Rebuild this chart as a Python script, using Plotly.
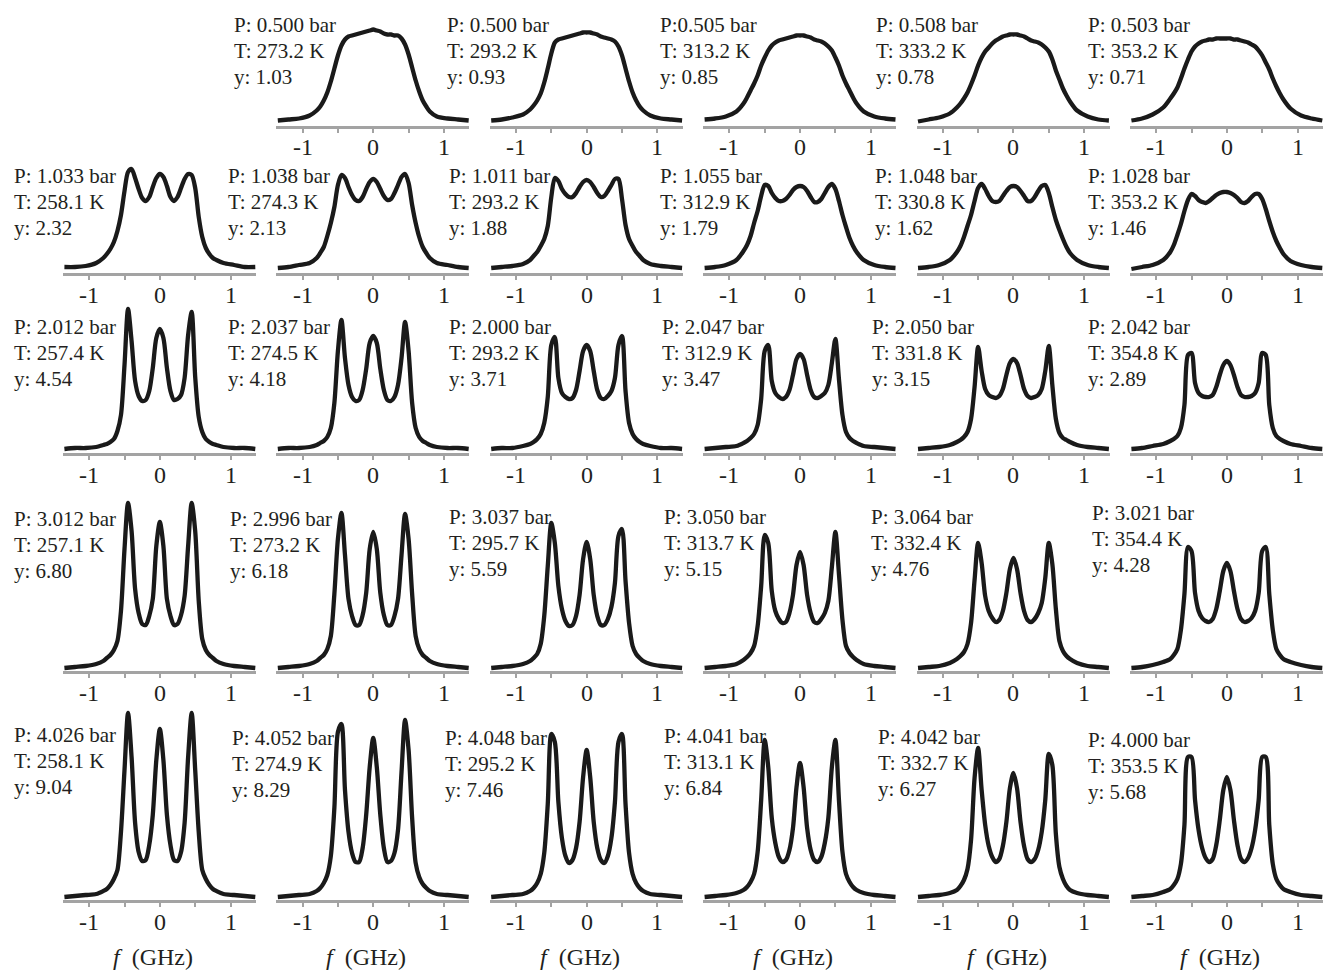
import plotly.graph_objects as go

# ---------------- data ----------------
# frequency grid (GHz)
X = [-1.35, -1.2, -1.05, -0.9, -0.8, -0.75, -0.7, -0.65, -0.6, -0.55, -0.5,
     -0.45, -0.4, -0.35, -0.3, -0.25, -0.2, -0.15, -0.1, -0.05, 0.0,
     0.05, 0.1, 0.15, 0.2, 0.25, 0.3, 0.35, 0.4, 0.45, 0.5, 0.55, 0.6,
     0.65, 0.7, 0.75, 0.8, 0.9, 1.05, 1.2, 1.35]

# intensity (arb. units) per panel, row r / column c
r1c2 = [5,6,7,10,15,19,25,33,44,57,70,80,86,89,90,91,92,93,94,95,96, 95,94,92,91,91,90,90,87,81,71,58,45,34,25,19,14,9,7,6,5]
r1c3 = [5,6,8,11,16,20,25,32,43,57,72,83,86,87,88,89,90,91,92,93,93, 93,92,91,89,88,87,86,84,79,70,57,44,33,25,19,15,10,7,6,5]
r1c4 = [6,7,9,14,22,28,35,42,50,60,68,75,80,83,85,86,87,88,89,90,90, 90,89,88,86,85,84,82,79,75,68,60,50,42,35,28,22,14,9,7,6]
r1c5 = [4,6,8,12,18,22,27,33,41,50,60,68,74,78,82,85,87,89,90,91,91, 91,90,89,87,85,84,83,81,78,74,66,55,46,37,30,24,15,9,6,5]
r1c6 = [5,7,11,18,27,32,38,47,57,66,74,79,82,84,85,86,86,87,87,87,87, 87,86,86,85,84,83,81,79,75,70,63,56,47,39,32,26,17,10,7,5]

r2c1 = [6,6,7,10,15,19,24,31,42,58,82,101,104,95,84,75,72,76,86,95,99, 96,87,76,72,76,85,94,99,98,85,56,36,25,19,15,13,10,8,6,6]
r2c2 = [5,6,8,10,15,20,26,37,50,66,88,98,95,86,78,73,72,76,84,91,94, 91,84,77,73,74,80,88,96,99,90,68,50,36,26,20,15,10,8,6,5]
r2c3 = [5,6,7,9,13,17,21,27,34,47,76,95,92,84,79,76,76,80,86,91,93, 91,86,80,76,77,82,88,94,94,74,48,34,27,21,17,13,9,7,6,5]
r2c4 = [5,6,8,13,22,28,37,50,62,77,88,87,80,75,72,72,74,78,83,86,87, 86,82,76,71,71,74,80,86,89,84,72,58,46,35,27,21,13,8,6,5]
r2c5 = [5,6,8,13,21,27,36,47,58,72,85,89,84,77,72,71,72,77,82,86,87, 86,82,77,72,72,76,82,87,88,80,66,53,43,34,26,20,13,8,6,5]
r2c6 = [4,6,8,13,21,28,38,49,62,73,79,77,73,71,70,72,75,78,80,81,81, 80,78,75,71,70,72,76,79,79,74,64,52,41,32,25,19,12,8,6,5]

r3c1 = [4,5,5,6,8,9,11,14,22,38,88,144,112,72,57,52,53,62,85,115,124, 115,85,62,53,54,58,75,118,141,76,36,21,14,11,9,8,6,5,5,4]
r3c2 = [4,5,5,6,8,10,12,16,25,50,102,133,95,68,56,52,53,63,84,110,117, 110,84,63,53,52,56,68,95,131,102,50,25,16,12,10,8,6,5,5,4]
r3c3 = [4,5,5,7,9,11,14,19,30,56,108,116,75,60,56,54,55,63,82,102,108, 102,82,63,55,54,57,62,75,108,117,62,30,19,14,11,9,7,5,5,4]
r3c4 = [4,5,6,7,10,12,15,19,28,54,102,108,72,60,56,54,56,63,78,94,99, 94,78,63,56,55,57,60,68,90,114,74,38,21,15,12,10,7,6,5,4]
r3c5 = [4,5,6,8,11,13,16,21,34,66,106,82,64,58,56,55,57,64,78,90,94, 90,78,64,57,55,56,58,64,82,107,68,34,20,15,13,11,8,6,5,4]
r3c6 = [4,5,7,9,12,14,17,25,48,98,100,70,60,57,56,56,58,66,78,88,92, 88,78,66,58,56,56,57,60,70,100,98,48,25,17,14,12,9,7,5,4]

r4c1 = [3,4,5,7,10,13,16,21,30,60,122,168,140,82,58,47,46,55,72,125,149, 125,72,55,46,47,56,75,125,168,140,70,32,21,16,13,10,7,5,4,3]
r4c2 = [3,4,5,7,10,13,16,22,35,77,132,158,116,72,55,46,46,56,78,122,139, 122,78,56,46,46,55,72,116,157,132,77,35,22,16,13,10,7,5,4,3]
r4c3 = [3,4,5,7,10,13,17,27,55,105,148,128,85,62,50,45,46,55,76,112,129, 112,76,55,46,46,52,64,88,135,142,90,48,25,17,13,10,7,5,4,3]
r4c4 = [3,4,5,7,11,14,18,25,45,85,136,128,80,60,52,48,49,58,76,106,119, 106,76,58,49,48,52,58,70,104,139,97,51,25,18,14,11,7,5,4,3]
r4c5 = [3,4,5,8,12,15,19,27,48,91,128,108,75,60,53,49,51,60,78,102,113, 102,78,60,51,49,52,58,68,93,128,107,62,30,20,15,12,8,5,4,3]
r4c6 = [3,4,6,9,12,16,22,41,77,124,120,78,60,53,50,49,52,62,80,100,108, 100,80,62,52,49,50,53,60,78,120,124,77,41,22,16,12,9,6,4,3]

r5c1 = [3,4,5,6,9,11,15,21,30,68,130,187,143,77,48,39,40,55,85,140,171, 140,85,55,40,39,48,77,143,187,130,68,30,21,15,11,9,6,5,4,3]
r5c2 = [3,4,5,6,9,12,17,25,44,92,168,176,110,68,47,38,38,52,85,133,162, 133,85,52,38,39,47,70,128,180,150,82,37,23,16,12,9,6,5,4,3]
r5c3 = [3,4,5,6,9,12,17,26,47,96,166,158,98,62,44,37,40,52,78,123,150, 123,78,52,40,37,44,62,98,158,166,96,47,26,17,12,9,6,5,4,3]
r5c4 = [3,4,5,7,10,13,18,26,48,100,160,133,82,57,43,38,40,50,72,113,137, 113,72,50,40,38,43,57,82,133,160,100,48,26,18,13,10,7,5,4,3]
r5c5 = [3,4,5,7,10,14,20,31,60,122,152,110,75,54,43,38,41,54,78,112,127, 112,78,54,41,38,41,50,68,100,146,135,66,33,21,14,10,7,5,4,3]
r5c6 = [3,4,5,8,11,15,21,36,75,143,143,100,70,52,42,38,41,55,80,110,123, 110,80,55,41,38,42,52,70,100,143,143,75,36,21,15,11,8,5,4,3]

SERIES = [
    [None, r1c2, r1c3, r1c4, r1c5, r1c6],
    [r2c1, r2c2, r2c3, r2c4, r2c5, r2c6],
    [r3c1, r3c2, r3c3, r3c4, r3c5, r3c6],
    [r4c1, r4c2, r4c3, r4c4, r4c5, r4c6],
    [r5c1, r5c2, r5c3, r5c4, r5c5, r5c6],
]

P_TEXT = [
    [None, "P: 0.500 bar", "P: 0.500 bar", "P:0.505 bar", "P: 0.508 bar", "P: 0.503 bar"],
    ["P: 1.033 bar", "P: 1.038 bar", "P: 1.011 bar", "P: 1.055 bar", "P: 1.048 bar", "P: 1.028 bar"],
    ["P: 2.012 bar", "P: 2.037 bar", "P: 2.000 bar", "P: 2.047 bar", "P: 2.050 bar", "P: 2.042 bar"],
    ["P: 3.012 bar", "P: 2.996 bar", "P: 3.037 bar", "P: 3.050 bar", "P: 3.064 bar", "P: 3.021 bar"],
    ["P: 4.026 bar", "P: 4.052 bar", "P: 4.048 bar", "P: 4.041 bar", "P: 4.042 bar", "P: 4.000 bar"],
]
T_TEXT = [
    [None, "T: 273.2 K", "T: 293.2 K", "T: 313.2 K", "T: 333.2 K", "T: 353.2 K"],
    ["T: 258.1 K", "T: 274.3 K", "T: 293.2 K", "T: 312.9 K", "T: 330.8 K", "T: 353.2 K"],
    ["T: 257.4 K", "T: 274.5 K", "T: 293.2 K", "T: 312.9 K", "T: 331.8 K", "T: 354.8 K"],
    ["T: 257.1 K", "T: 273.2 K", "T: 295.7 K", "T: 313.7 K", "T: 332.4 K", "T: 354.4 K"],
    ["T: 258.1 K", "T: 274.9 K", "T: 295.2 K", "T: 313.1 K", "T: 332.7 K", "T: 353.5 K"],
]
Y_TEXT = [
    [None, "y: 1.03", "y: 0.93", "y: 0.85", "y: 0.78", "y: 0.71"],
    ["y: 2.32", "y: 2.13", "y: 1.88", "y: 1.79", "y: 1.62", "y: 1.46"],
    ["y: 4.54", "y: 4.18", "y: 3.71", "y: 3.47", "y: 3.15", "y: 2.89"],
    ["y: 6.80", "y: 6.18", "y: 5.59", "y: 5.15", "y: 4.76", "y: 4.28"],
    ["y: 9.04", "y: 8.29", "y: 7.46", "y: 6.84", "y: 6.27", "y: 5.68"],
]
TICK_VALS = [-1, -0.5, 0, 0.5, 1]
LABEL_VALS = [-1, 0, 1]
LABEL_TEXT = ["-1", "0", "1"]
X_TITLE = "<i>f</i>\u00a0 (GHz)"

# ---------------- layout (pixel geometry) ----------------
W, H = 1326, 973
COL_LEFT, COL_W, COL_STEP = 63.0, 193.0, 213.4
ROW_AXIS = [125.5, 273.0, 453.0, 671.0, 900.0]
ROW_SPAN = [115, 125, 160, 185, 200]
LABEL_DY = 22
TEXT_X = [
    [None, 232, 445, 658, 874, 1086],
    [12, 226, 447, 658, 873, 1086],
    [12, 226, 447, 660, 870, 1086],
    [12, 228, 447, 662, 869, 1090],
    [12, 230, 443, 662, 876, 1086],
]
TEXT_Y = [
    [None, 25, 25, 25, 25, 25],
    [176, 176, 176, 176, 176, 176],
    [327, 327, 327, 327, 327, 327],
    [519, 519, 517, 517, 517, 513],
    [735, 738, 738, 736, 737, 740],
]
LINE_GAP = 26
FONT = "Liberation Serif, Times New Roman, serif"
TXT_COLOR = "#231f20"
AXIS_GRAY = "#a3a3a3"

fig = go.Figure()
layout = dict(width=W, height=H, margin=dict(l=0, r=0, t=0, b=0),
              paper_bgcolor="white", plot_bgcolor="white", showlegend=False,
              annotations=[])

n = 0
for r in range(5):
    for c in range(6):
        vals = SERIES[r][c]
        if vals is None:
            continue
        n += 1
        xs = "x" if n == 1 else f"x{n}"
        ys = "y" if n == 1 else f"y{n}"
        xk = "xaxis" if n == 1 else f"xaxis{n}"
        yk = "yaxis" if n == 1 else f"yaxis{n}"
        fig.add_trace(go.Scatter(
            x=X, y=vals, mode="lines", xaxis=xs, yaxis=ys, hoverinfo="skip",
            line=dict(color="#1a1a1a", width=4.3, shape="spline", smoothing=0.8)))
        x0 = COL_LEFT + COL_STEP * c
        layout[xk] = dict(
            domain=[x0 / W, (x0 + COL_W) / W], range=[-1.37, 1.36], anchor=ys,
            showline=True, linecolor=AXIS_GRAY, linewidth=3,
            ticks="outside", ticklen=4, tickwidth=2, tickcolor=AXIS_GRAY,
            tickvals=TICK_VALS, showticklabels=False,
            showgrid=False, zeroline=False, fixedrange=True)
        yb = ROW_AXIS[r]
        layout[yk] = dict(
            domain=[1 - yb / H, 1 - (yb - ROW_SPAN[r]) / H], range=[0, ROW_SPAN[r]],
            anchor=xs, visible=False, fixedrange=True)
        # tick labels placed on the axis scale
        for tv, tt in zip(LABEL_VALS, LABEL_TEXT):
            layout["annotations"].append(dict(
                text=tt, xref=xs, yref="paper", x=tv, y=1 - (yb + LABEL_DY) / H,
                xanchor="center", yanchor="middle", showarrow=False,
                font=dict(family=FONT, size=24, color=TXT_COLOR)))
        tx, ty = TEXT_X[r][c], TEXT_Y[r][c]
        for k, txt in enumerate([P_TEXT[r][c], T_TEXT[r][c], Y_TEXT[r][c]]):
            layout["annotations"].append(dict(
                text=txt, xref="paper", yref="paper", x=tx / W,
                y=1 - (ty + k * LINE_GAP) / H, xanchor="left", yanchor="middle",
                showarrow=False, font=dict(family=FONT, size=21, color=TXT_COLOR)))

for c in range(6):
    cx = 153 + COL_STEP * c
    layout["annotations"].append(dict(
        text=X_TITLE, xref="paper", yref="paper", x=cx / W, y=1 - 957 / H,
        xanchor="center", yanchor="middle", showarrow=False,
        font=dict(family=FONT, size=24, color=TXT_COLOR)))

fig.update_layout(**layout)
fig.write_html("out.html", config={"displayModeBar": False},
               post_script="document.body.style.margin='0';")
